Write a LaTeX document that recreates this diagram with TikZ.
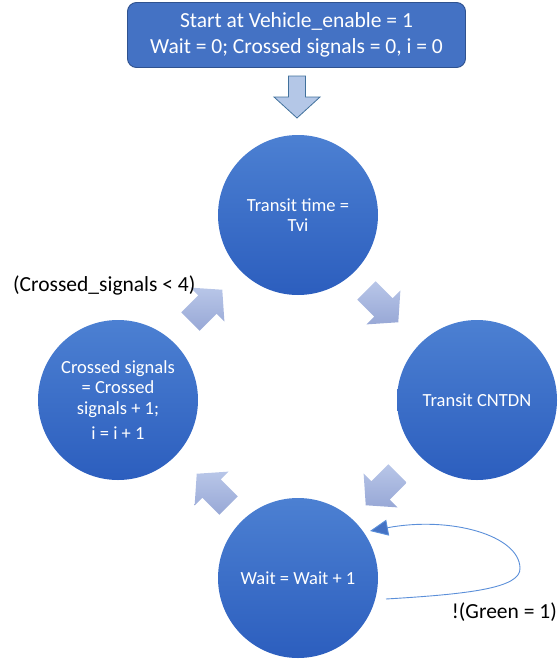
\documentclass[tikz,border=0pt]{standalone}
\usepackage{fontspec}
\setmainfont{Carlito}
\usetikzlibrary{arrows.meta,calc}
\definecolor{boxblue}{RGB}{68,114,196}
\definecolor{boxedge}{RGB}{47,82,143}
\definecolor{circtop}{RGB}{76,128,210}
\definecolor{circbot}{RGB}{44,94,190}
\definecolor{arrtop}{RGB}{184,198,232}
\definecolor{arrbot}{RGB}{152,168,214}
\definecolor{downfill}{RGB}{180,199,231}
\definecolor{downedge}{RGB}{65,113,156}
\definecolor{loopblue}{RGB}{91,143,217}
\definecolor{headblue}{RGB}{68,114,196}
\tikzset{
  startbox/.style={draw=boxedge, line width=0.9pt, fill=boxblue, rounded corners=9pt,
    minimum width=338pt, minimum height=65pt, text=white, align=center,
    font=\fontsize{21.5}{26}\selectfont},
  state/.style={circle, minimum size=160pt, inner sep=0pt, text=white, align=center,
    top color=circtop, bottom color=circbot, draw=none,
    font=\fontsize{18.5}{20.5}\selectfont},
  blockfill/.style={top color=arrtop, bottom color=arrbot, draw=none},
  loopline/.style={draw=loopblue, line width=0.9pt},
  label/.style={font=\fontsize{21.5}{24}\selectfont, text=black, inner sep=0pt}
}
% block arrow centred at (#1,#2), pointing at angle #3
\newcommand\blockarrow[3]{%
  \path[blockfill, shift={(#1,#2)}, rotate=#3]
    (-22,-13) -- (2,-13) -- (2,-24) -- (23,0) -- (2,24) -- (2,13) -- (-22,13) -- cycle;}
\begin{document}
\begin{tikzpicture}[x=1pt,y=-1pt]
  \useasboundingbox (0,0) rectangle (559,664);

  % start box
  \node[startbox] (start) at (296.5,35)
    {Start at Vehicle\_enable = 1\\Wait = 0; Crossed signals = 0, i = 0};

  % down arrow below the start box
  \path[draw=downedge, line width=0.8pt, fill=downfill]
    (288.5,76) -- (305.5,76) -- (305.5,97) -- (320,97) -- (297,118)
    -- (274,97) -- (288.5,97) -- cycle;

  % states
  \node[state] (transit) at (298,215) {Transit time =\\Tvi};
  \node[state] (cntdn)   at (477,400) {Transit CNTDN};
  \node[state] (wait)    at (298,578) {Wait = Wait + 1};
  \node[state] (crossed) at (118,400)
    {Crossed signals\\= Crossed\\signals + 1;\\[5pt]i = i + 1};

  % block arrows between the states
  \blockarrow{382}{306}{-45}
  \blockarrow{382}{489}{-135}
  \blockarrow{213}{490}{135}
  \blockarrow{206}{306}{45}

  % self loop on the wait state
  \coordinate (loopout) at (386,599);
  \coordinate (loopin)  at (370,531);
  \draw[loopline, -{Triangle[length=18pt,width=16pt,fill=headblue]}]
    (loopout) .. controls (470,594) and (521,588) .. (520,568)
    .. controls (519,535) and (450,516) .. (loopin);

  % guard labels
  \node[label, anchor=west] (guardcross) at (13,285) {(Crossed\_signals < 4)};
  \node[label, anchor=east] (guardgreen) at (557,612) {!(Green = 1)};
\end{tikzpicture}
\end{document}
